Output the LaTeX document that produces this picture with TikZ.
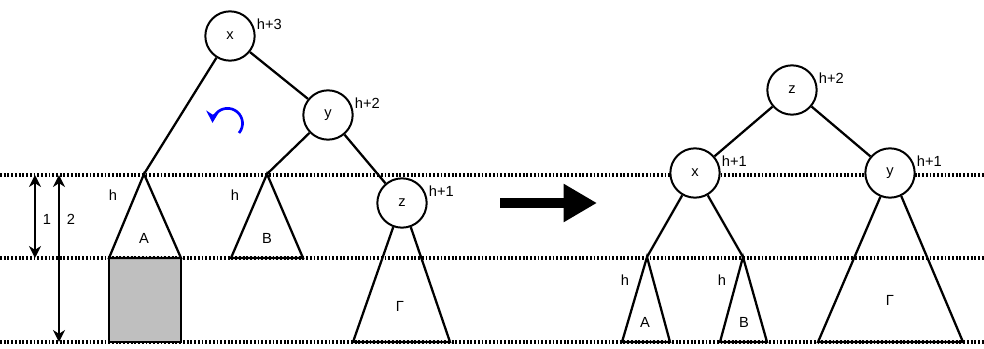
\documentclass[tikz,border=0pt]{standalone}
\usepackage{fontspec}
\setmainfont{Liberation Sans}
\usetikzlibrary{arrows.meta}

\begin{document}
\begin{tikzpicture}[x=0.75pt, y=-0.75pt, font=\fontsize{11}{13}\selectfont,
  key/.style={circle, draw, fill=white, line width=1.5pt, minimum size=37pt, inner sep=0pt},
  edge/.style={line width=1.7pt},
  level/.style={line width=2.4pt, dash pattern=on 1.4pt off 1.4pt},
  tag/.style={inner sep=1pt}]
  \useasboundingbox (0,0) rectangle (984,349);

  % dotted levels
  \foreach \ly in {175,258,342}
    \draw[level] (0,\ly) -- (984,\ly);

  % height arrows
  \coordinate (oneTop) at (35,175);
  \coordinate (oneBot) at (35,258);
  \coordinate (twoTop) at (59,175);
  \coordinate (twoBot) at (59,342);
  \draw[edge, {Stealth[length=9pt,width=9pt]}-{Stealth[length=9pt,width=9pt]}] (oneTop) -- (oneBot);
  \draw[edge, {Stealth[length=9pt,width=9pt]}-{Stealth[length=9pt,width=9pt]}] (twoTop) -- (twoBot);
  \node[tag] (one) at (47,219) {1};
  \node[tag] (two) at (71,219) {2};

  % shaded extra level
  \draw[edge, fill=gray!50] (109,258) rectangle (181,342);

  % left tree
  \node[key, label={[tag]10:h+3}] (x1) at (230,36) {x};
  \node[key, label={[tag]10:h+2}] (y1) at (328,115) {y};
  \node[key, label={[tag]10:h+1}] (z1) at (402,203) {z};
  \coordinate (a1) at (144,174);
  \coordinate (b1) at (267,174);
  \draw[edge] (x1) -- (a1);
  \draw[edge] (x1) -- (y1);
  \draw[edge] (y1) -- (b1);
  \draw[edge] (y1) -- (z1);
  \draw[edge] (a1) -- (109,258) -- (181,258) -- cycle;
  \draw[edge] (b1) -- (231,258) -- (303,258) -- cycle;
  \draw[edge] (z1.-110) -- (353,342) -- (450,342) -- (z1.-70);
  \node[tag] (hA1) at (113,195) {h};
  \node[tag] (hB1) at (235,195) {h};
  \node[tag] (A1) at (144,238) {A};
  \node[tag] (B1) at (267,238) {B};
  \node[tag] (G1) at (400,306) {Γ};

  % rotation sign
  \draw[blue, line width=2pt, -{Stealth[length=9pt,width=10pt]}] (239,133) arc[start angle=40, end angle=-178, radius=15];

  % big arrow
  \coordinate (arrFrom) at (500,203);
  \coordinate (arrTo) at (597,203);
  \draw[line width=7.5pt, -{Triangle[length=25pt,width=27pt]}] (arrFrom) -- (arrTo);

  % right tree
  \node[key, label={[tag]10:h+2}] (z2) at (792,90) {z};
  \node[key, label={[tag]10:h+1}] (x2) at (695,173) {x};
  \node[key, label={[tag]10:h+1}] (y2) at (890,173) {y};
  \coordinate (a2) at (647,257);
  \coordinate (b2) at (743,257);
  \draw[edge] (z2) -- (x2);
  \draw[edge] (z2) -- (y2);
  \draw[edge] (x2) -- (a2);
  \draw[edge] (x2) -- (b2);
  \draw[edge] (a2) -- (622,342) -- (670,342) -- cycle;
  \draw[edge] (b2) -- (720,342) -- (767,342) -- cycle;
  \draw[edge] (y2.-112) -- (818,342) -- (963,342) -- (y2.-64);
  \node[tag] (hA2) at (625,280) {h};
  \node[tag] (hB2) at (722,280) {h};
  \node[tag] (A2) at (645,322) {A};
  \node[tag] (B2) at (744,322) {B};
  \node[tag] (G2) at (890,300) {Γ};
\end{tikzpicture}
\end{document}
